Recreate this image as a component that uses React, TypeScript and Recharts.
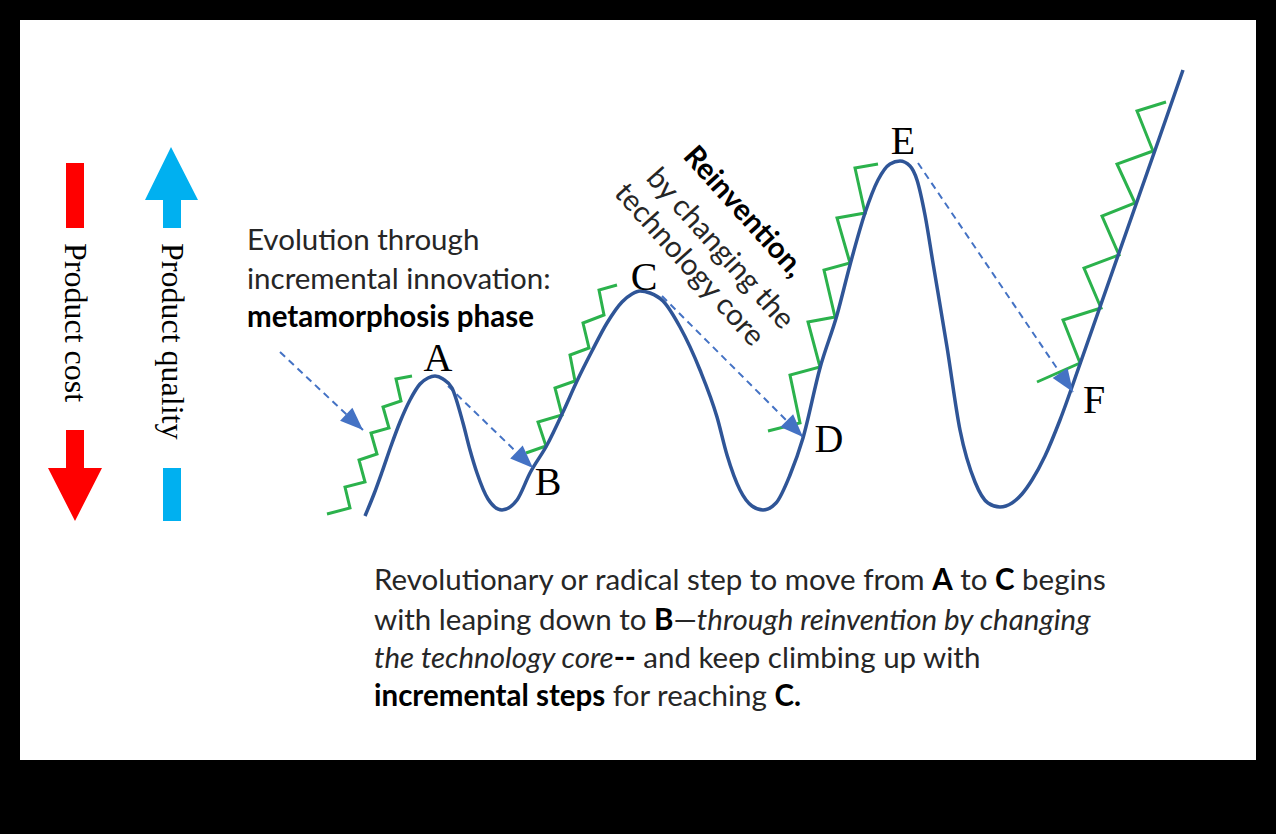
import React from 'react';
import { ComposedChart, Line, Scatter, XAxis, YAxis } from 'recharts';

// Everything in page units: x grows right, y grows down.
const wave = [
  [365, 516], [374, 494], [382, 472], [391, 446], [400, 422], [410, 400], [420, 384],
  [428, 378], [435, 376], [443, 379], [452, 388], [463, 423], [470, 450], [477, 473],
  [488, 499], [502, 510], [517, 500], [530, 473], [547, 445], [563, 412], [577, 381],
  [592, 351], [607, 323], [622, 302], [632, 294], [640, 291], [650, 293], [663, 301],
  [680, 327], [700, 370], [717, 417], [727, 455], [740, 490], [752, 506], [763, 510],
  [776, 503], [790, 475], [803, 438], [820, 368], [837, 315], [850, 265], [865, 213],
  [878, 180], [890, 164], [900, 161], [910, 166], [917, 180], [925, 215], [933, 263],
  [947, 347], [960, 430], [975, 482], [988, 503], [1000, 507], [1012, 503], [1022, 494],
  [1032, 480], [1045, 456], [1060, 420], [1080, 364], [1100, 307], [1120, 250],
  [1140, 193], [1160, 136], [1183, 70],
];

const stepsA = [
  [327, 514], [350, 508], [345, 487], [365, 482], [359, 460], [377, 454],
  [371, 433], [389, 428], [383, 407], [401, 401], [396, 379], [412, 376],
];
const stepsC = [
  [526, 453], [546, 446], [538, 422], [562, 415], [555, 388], [575, 381],
  [570, 355], [589, 348], [583, 323], [604, 315], [599, 290], [617, 285],
];
const stepsE = [
  [768, 431], [800, 423], [790, 375], [820, 367], [808, 322], [835, 317],
  [824, 270], [850, 263], [837, 218], [865, 213], [855, 168], [878, 164],
];
const stepsF = [
  [1037, 382], [1080, 363], [1063, 320], [1101, 308], [1084, 268], [1119, 255],
  [1102, 216], [1135, 203], [1117, 164], [1153, 151], [1137, 111], [1166, 102],
];

const leaps = [
  [[280, 352], [363, 430]],
  [[448, 386], [533, 468]],
  [[662, 296], [803, 437]],
  [[918, 163], [1073, 392]],
];

const letters = ['A', 'B', 'C', 'D', 'E', 'F'];
const letterX = [438, 548, 644, 829, 903, 1094];
const letterY = [371, 495, 290, 452, 154, 413];

const toPoints = (pairs: number[][]) => pairs.map(([x, y]) => ({ x, y }));
const letterData = letters.map((label, i) => ({ x: letterX[i], y: letterY[i], label }));

const SANS = "Lato, 'Open Sans', sans-serif";
const SERIF = "'Liberation Serif', 'DejaVu Serif', serif";
const BLUE = '#2F5597';
const GREEN = '#2BB24C';
const DASH = '#4472C4';

// arrow head on the last point of a dashed leap (axes are 1:1, so data direction = pixel direction)
const arrowHead = (pts: number[][]) => (props: any) => {
  const { cx, cy, index } = props;
  if (index !== pts.length - 1 || cx == null) return <g key={`n${index}`} />;
  const [x0, y0] = pts[pts.length - 2];
  const [x1, y1] = pts[pts.length - 1];
  const ang = (Math.atan2(y1 - y0, x1 - x0) * 180) / Math.PI;
  return (
    <polygon
      key={`h${index}`}
      points="0,0 -23,-9 -23,9"
      transform={`translate(${cx},${cy}) rotate(${ang})`}
      fill={DASH}
    />
  );
};

const letterShape = (props: any) => (
  <text
    x={props.cx}
    y={props.cy}
    textAnchor="middle"
    fontFamily={SERIF}
    fontSize={40}
    fill="#000"
  >
    {props.payload.label}
  </text>
);

function Overlay() {
  const txt = { fontFamily: SANS, fontSize: 29.5, fill: '#262626' };
  return (
    <svg width={1276} height={834} style={{ position: 'absolute', left: 0, top: 0 }}>
      {/* product cost (red) and product quality (blue) arrows */}
      <rect x={66} y={163} width={18} height={65} fill="#FF0000" />
      <polygon points="66,430 84,430 84,468 102,468 75,521 48,468 66,468" fill="#FF0000" />
      <polygon points="171,147 198,200 181,200 181,228 163,228 163,200 145,200" fill="#00B0F0" />
      <rect x={163} y={468} width={18} height={53} fill="#00B0F0" />
      <text transform="translate(65,243) rotate(90)" fontFamily={SERIF} fontSize={32} fill="#000">
        Product cost
      </text>
      <text transform="translate(162,243) rotate(90)" fontFamily={SERIF} fontSize={32} fill="#000">
        Product quality
      </text>

      <text x={247} y={250} {...txt}>Evolution through</text>
      <text x={247} y={289} {...txt}>incremental innovation:</text>
      <text x={247} y={327} {...txt} fontWeight="bold" fill="#000">metamorphosis phase</text>

      <text transform="translate(682,157) rotate(48)" {...txt} fontWeight="bold" fill="#000">
        Reinvention,
      </text>
      <text transform="translate(645,179) rotate(48)" {...txt}>by changing the</text>
      <text transform="translate(613,194) rotate(48)" {...txt}>technology core</text>

      <text x={374} y={590} {...txt}>
        Revolutionary or radical step to move from <tspan fontWeight="bold" fill="#000">A</tspan> to{' '}
        <tspan fontWeight="bold" fill="#000">C</tspan> begins
      </text>
      <text x={374} y={630} {...txt}>
        with leaping down to <tspan fontWeight="bold" fill="#000">B</tspan>—
        <tspan fontStyle="italic">through reinvention by changing</tspan>
      </text>
      <text x={374} y={668} {...txt}>
        <tspan fontStyle="italic">the technology core</tspan>
        <tspan fontWeight="bold" fill="#000">--</tspan> and keep climbing up with
      </text>
      <text x={374} y={706} {...txt}>
        <tspan fontWeight="bold" fill="#000">incremental steps</tspan> for reaching{' '}
        <tspan fontWeight="bold" fill="#000">C.</tspan>
      </text>
    </svg>
  );
}

export default function App() {
  return (
    <div style={{ position: 'fixed', left: 0, top: 0, width: 1276, height: 834, background: '#000', overflow: 'hidden' }}>
      <div style={{ position: 'absolute', left: 20, top: 20, width: 1236, height: 740, background: '#fff' }} />
      <div style={{ position: 'absolute', left: 0, top: 0 }}>
        <ComposedChart width={1276} height={834} margin={{ top: 0, right: 0, bottom: 0, left: 0 }}>
          <XAxis type="number" dataKey="x" domain={[0, 1276]} allowDataOverflow hide />
          <YAxis type="number" domain={[0, 834]} allowDataOverflow reversed hide />
          {leaps.map((pts, i) => (
            <Line
              key={`leap${i}`}
              data={toPoints(pts)}
              dataKey="y"
              type="linear"
              stroke={DASH}
              strokeWidth={2}
              strokeDasharray="7 5"
              dot={arrowHead(pts)}
              activeDot={false}
              isAnimationActive={false}
            />
          ))}
          {[stepsA, stepsC, stepsE, stepsF].map((pts, i) => (
            <Line
              key={`steps${i}`}
              data={toPoints(pts)}
              dataKey="y"
              type="linear"
              stroke={GREEN}
              strokeWidth={3}
              dot={false}
              activeDot={false}
              isAnimationActive={false}
            />
          ))}
          <Line
            data={toPoints(wave)}
            dataKey="y"
            type="monotone"
            stroke={BLUE}
            strokeWidth={3.5}
            dot={false}
            activeDot={false}
            isAnimationActive={false}
          />
          <Scatter data={letterData} dataKey="y" shape={letterShape} isAnimationActive={false} />
        </ComposedChart>
      </div>
      <Overlay />
    </div>
  );
}
